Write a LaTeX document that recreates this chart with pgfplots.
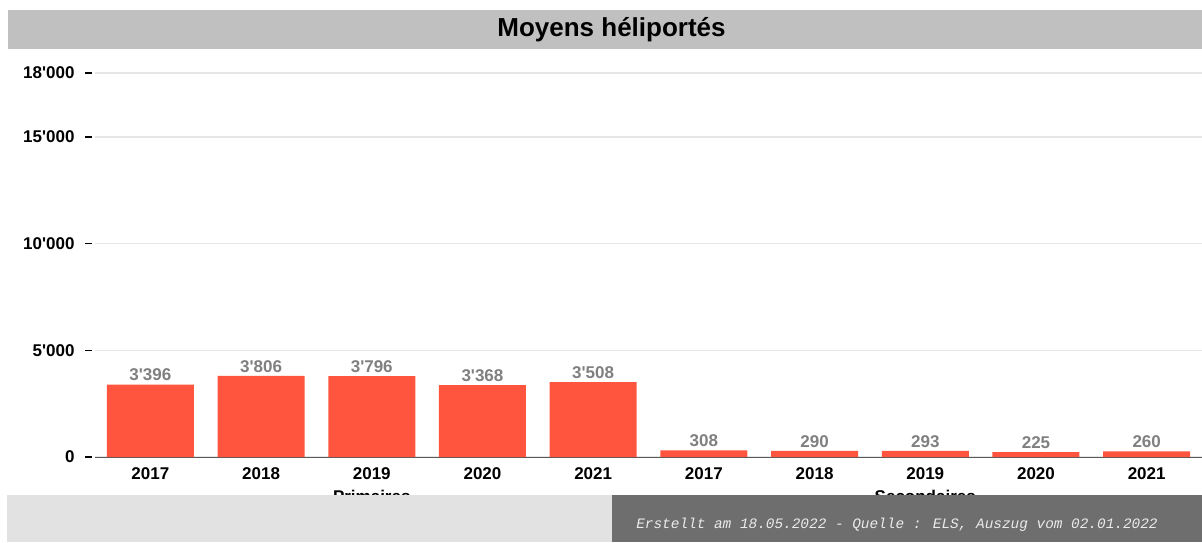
\documentclass[border=0pt]{standalone}
\usepackage{fontspec}
\usepackage{pgfplots}
\pgfplotsset{compat=1.18}
\newfontfamily\lab{Liberation Sans}
\newfontfamily\mono{Liberation Mono}
\definecolor{barred}{RGB}{255,85,62}
\definecolor{titlegrey}{RGB}{192,192,192}
\definecolor{lightband}{RGB}{226,226,226}
\definecolor{darkband}{RGB}{110,110,110}
\definecolor{valgrey}{RGB}{128,128,128}
\definecolor{gridgrey}{RGB}{230,230,230}
\begin{document}
\begin{tikzpicture}[x=1pt,y=1pt]
\fill[white] (0,0) rectangle (1202,542);
\path[use as bounding box] (0,0) rectangle (1202,542);
\fill[titlegrey] (8,532) rectangle (1202,493);
\node[font={\lab\bfseries\fontsize{26}{30}\selectfont}] at (611.5,512) {Moyens héliportés};
\begin{axis}[
  at={(95pt,85pt)}, anchor=south west,
  scale only axis, width=1107pt, height=384pt,
  xmin=-0.5, xmax=9.5, ymin=0, ymax=18000,
  clip=false,
  axis x line*=bottom, axis y line*=left,
  y axis line style={draw=none},
  x axis line style={draw=black!65, line width=1pt, -},
  xtick={0,...,9},
  xticklabels={2017,2018,2019,2020,2021,2017,2018,2019,2020,2021},
  xtick style={draw=none},
  ytick={0,5000,10000,15000,18000},
  tick align=outside,
  major tick length=7pt,
  ytick style={black, line width=1.3pt, xshift=-3pt},
  ymajorgrids, grid style={gridgrey, line width=1.2pt},
  ticklabel style={font={\lab\bfseries\fontsize{17}{20}\selectfont}},
  yticklabel style={xshift=-10pt},
  /pgf/number format/.cd, 1000 sep={'}, assume math mode=true,
  /pgfplots/.cd,
  scaled y ticks=false,
  ybar, bar width=87pt,
  nodes near coords={\pgfmathprintnumber[1000 sep={'},assume math mode=true]{\pgfplotspointmeta}},
  every node near coord/.append style={font={\lab\bfseries\fontsize{17}{20}\selectfont}, text=valgrey},
]
\addplot[fill=barred, draw=none] coordinates {
 (0,3396) (1,3806) (2,3796) (3,3368) (4,3508)
 (5,308) (6,290) (7,293) (8,225) (9,260)};
\node[font={\lab\bfseries\fontsize{17}{20}\selectfont}, anchor=base] at (axis cs:2,0) [yshift=-45pt] {Primaires};
\node[font={\lab\bfseries\fontsize{17}{20}\selectfont}, anchor=base] at (axis cs:7,0) [yshift=-45pt] {Secondaires};
\end{axis}
\fill[lightband] (7,47) rectangle (612,0);
\fill[darkband] (612,47) rectangle (1202,0);
\node[font={\mono\itshape\fontsize{14.4}{17}\selectfont}, text={rgb,255:red,235;green,235;blue,235}] at (897,17) {Erstellt am 18.05.2022 - Quelle : ELS, Auszug vom 02.01.2022};
\end{tikzpicture}
\end{document}
